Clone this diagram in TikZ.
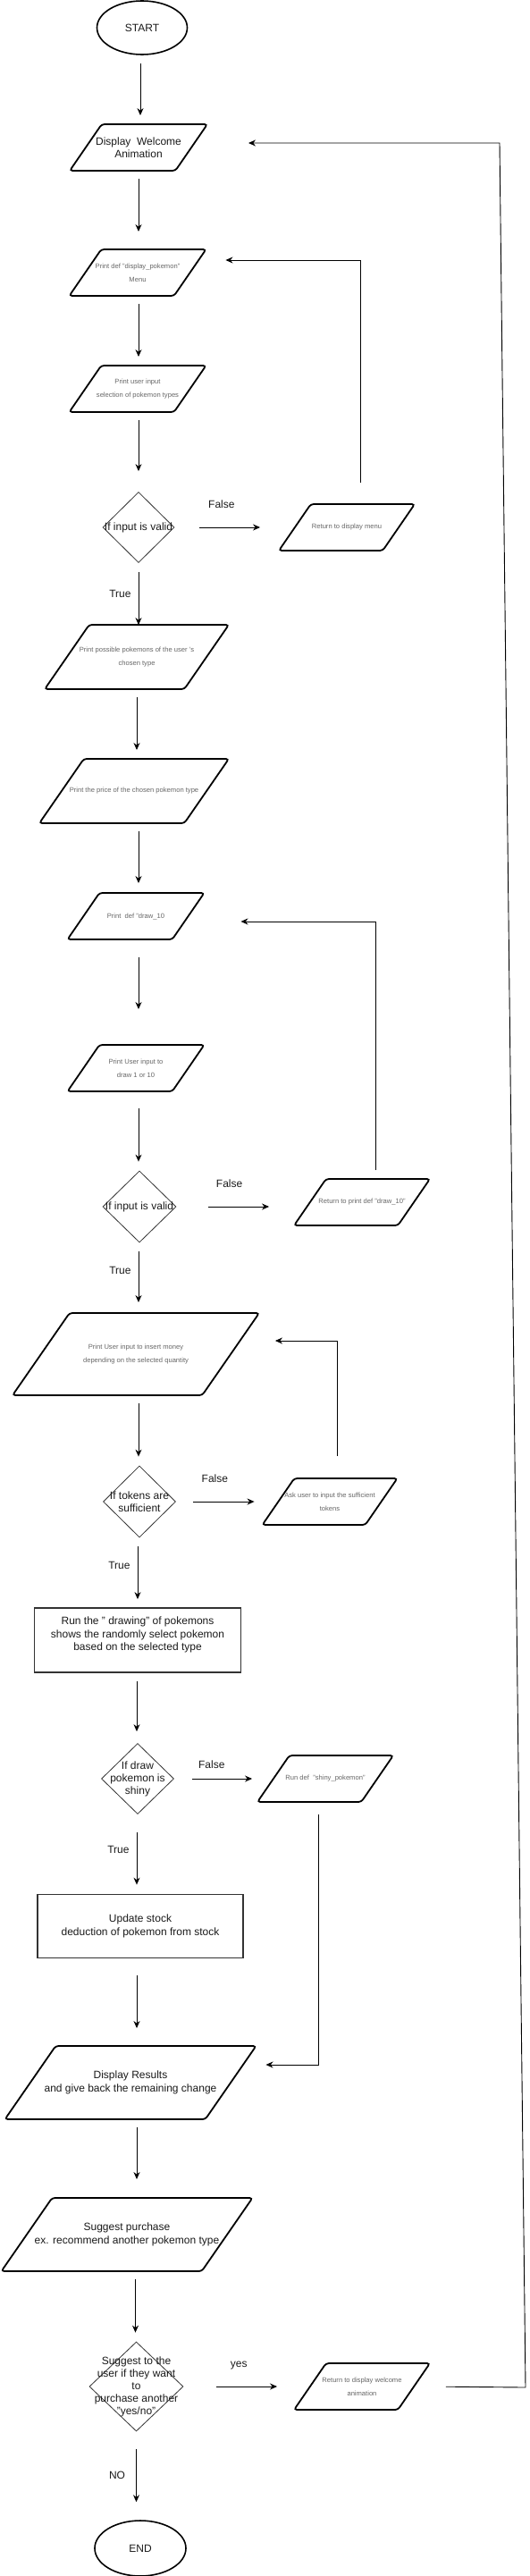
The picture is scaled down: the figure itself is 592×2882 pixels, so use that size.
\documentclass[tikz,border=0pt]{standalone}
\usepackage{fontspec}
\setmainfont{Liberation Sans}
\usetikzlibrary{shapes.geometric,arrows.meta}

\definecolor{txtgrey}{HTML}{666666}
\definecolor{inkdark}{HTML}{1A1A1A}
\newcommand\bigtxt{\fontsize{12}{14.5}\selectfont}
\newcommand\smalltxt{\fontsize{7.6}{15}\selectfont}

\begin{document}
\begin{tikzpicture}%
  [x=1pt, y=-1pt,
   >={Stealth[length=8pt,width=7pt]},
   line width=0.9pt,
   io/.style 2 args={rectangle, inner sep=0pt, minimum width=#1, minimum height=#2,
     align=center, text=txtgrey, font=\smalltxt,
     append after command={\pgfextra{\draw[line width=1.8pt, rounded corners=3pt]
       ([xshift={0.7*#2}]\tikzlastnode.north west) -- (\tikzlastnode.north east)
       -- ([xshift={-0.7*#2}]\tikzlastnode.south east) -- (\tikzlastnode.south west) -- cycle;}}},
   iobig/.style 2 args={io={#1}{#2}, text=inkdark, font=\bigtxt},
   process/.style 2 args={rectangle, draw=black!80, line width=1.8pt,
     minimum width=#1, minimum height=#2, align=center, text=inkdark, font=\bigtxt},
   decision/.style 2 args={diamond, draw=black!80, line width=0.8pt, inner sep=0pt,
     minimum width=#1, minimum height=#2},
   dtext/.style={align=center, text=inkdark, font=\fontsize{12}{14}\selectfont, inner sep=0pt},
   term/.style={ellipse, draw=black, line width=1.6pt, minimum width=101,
     minimum height=60, text=inkdark, font=\bigtxt},
   lbl/.style={text=inkdark, font=\bigtxt, inner sep=0pt},
   vert/.style={to path={-- (\tikztostart |- \tikztotarget) \tikztonodes}},
   horiz/.style={to path={-- (\tikztostart -| \tikztotarget) \tikztonodes}},
  ]
\useasboundingbox (0,0) rectangle (592,2882);

% main column
\node[term] (start) at (159,31) {START};
\node[iobig={153}{51}] (welcome) at (155,165) {Display\ \ Welcome\\Animation};
\node[io={152}{51}] (menu) at (154,305) {Print def "display\_pokemon"\\Menu};
\node[io={152}{51}] (input) at (154,435) {Print user input\\selection of pokemon types};
\node[decision={80}{79}, label={[dtext]center:If input is valid}] (valid1) at (155,590) {};
\node[io={205}{71}] (possible) at (153,735) {Print possible pokemons of the user 's\\chosen type};
\node[io={211}{71}] (price) at (150,885) {Print the price of the chosen pokemon type};
\node[io={152}{51}] (drawten) at (152,1025) {Print\ \ def "draw\_10};
\node[io={152}{51}] (drawqty) at (152,1195) {Print User input to\\draw 1 or 10};
\node[decision={82}{80}, label={[dtext]center:If input is valid}] (valid2) at (156,1350) {};
\node[io={275}{91}] (money) at (152,1515) {Print User input to insert money\\depending on the selected quantity};
\node[decision={81}{80}, label={[dtext]center:{If tokens are\\sufficient}}] (tokens) at (156,1680) {};
\node[process={231}{72}] (run) at (154,1835) {Run the " drawing" of pokemons\\shows the randomly select pokemon\\based on the selected type\\ \mbox{}};
\node[decision={81}{79}, label={[dtext]center:{If draw\\pokemon is\\shiny}}] (shiny) at (154,1990) {};
\node[process={230}{71}] (update) at (157,2155) {Update stock\\deduction of pokemon from stock};
\node[iobig={280}{81}] (results) at (146,2330) {Display Results\\and give back the remaining change};
\node[iobig={280}{81}] (suggest) at (142,2500) {Suggest purchase\\ex. recommend another pokemon type};
\node[decision={105}{100}, label={[dtext]center:{Suggest to the\\user if they want\\to\\purchase another\\"yes/no"}}] (again) at (152.5,2670) {};
\node[term, minimum width=102, minimum height=62] (end) at (157,2851) {END};

% side boxes
\node[io={151}{51}] (retmenu) at (388,590) {Return to display menu};
\node[io={151}{51}] (retdraw) at (405,1345) {Return to print def "draw\_10"};
\node[io={150}{51}] (asktok) at (369,1680) {Ask user to input the sufficient\\tokens};
\node[io={151}{51}] (runshiny) at (364,1990) {Run def\ \ "shiny\_pokemon"};
\node[io={151}{51}] (retwelcome) at (405,2670) {Return to display welcome\\animation};

\coordinate (loopbot) at (588,2671);
\coordinate (looptop) at (559,160);

\path[->]
%   FROM                    STYLE / GAPS                                LABEL                         TO
   ([xshift=-2]start.south) edge[vert, shorten <=9,  shorten >=10]                                    (welcome.north)
   (welcome.south)          edge[vert, shorten <=9,  shorten >=20]                                    (menu.north)
   ([xshift=1]menu.south)   edge[vert, shorten <=9,  shorten >=10]                                    (input.north)
   ([xshift=1]input.south)  edge[vert, shorten <=9,  shorten >=23]                                    (valid1.north)
   (valid1.south)           edge[vert, shorten <=10, shorten >=0]   node[lbl, left=8pt] {True}       (possible.north)
   (possible.south)         edge[vert, shorten <=9,  shorten >=10]                                    (price.north)
   ([xshift=5]price.south)  edge[vert, shorten <=9,  shorten >=11]                                    (drawten.north)
   ([xshift=3]drawten.south) edge[vert, shorten <=20, shorten >=40]                                   (drawqty.north)
   ([xshift=3]drawqty.south) edge[vert, shorten <=19, shorten >=10]                                   (valid2.north)
   ([xshift=-1]valid2.south) edge[vert, shorten <=10, shorten >=12] node[lbl, left=8pt, pos=0.4] {True} (money.north)
   ([xshift=3]money.south)  edge[vert, shorten <=9,  shorten >=10]                                    (tokens.north)
   ([xshift=-2]tokens.south) edge[vert, shorten <=10, shorten >=9]  node[lbl, left=8pt, pos=0.4] {True} (run.north)
   ([xshift=-1]run.south)   edge[vert, shorten <=9,  shorten >=13]                                    (shiny.north)
   ([xshift=-1]shiny.south) edge[vert, shorten <=20, shorten >=10]  node[lbl, left=8pt, pos=0.45] {True} (update.north)
   ([xshift=-4]update.south) edge[vert, shorten <=19, shorten >=20]                                   (results.north)
   ([xshift=7]results.south) edge[vert, shorten <=9, shorten >=21]                                    (suggest.north)
   ([xshift=9.5]suggest.south) edge[vert, shorten <=9, shorten >=10]                                  (again.north)
   (again.south)            edge[vert, shorten <=20, shorten >=20]  node[lbl, left=12pt, pos=0.5] {NO} (end.north)
   ;

\path[->]
   (valid1.east)  edge[horiz, shorten <=28, shorten >=21] node[lbl, above=21pt, pos=0.45] {False} (retmenu.west)
   (valid2.east)  edge[horiz, shorten <=36, shorten >=28] node[lbl, above=21pt, pos=0.45] {False} (retdraw.west)
   (tokens.east)  edge[horiz, shorten <=19, shorten >=9]  node[lbl, above=21pt, pos=0.45] {False} (asktok.west)
   (shiny.east)   edge[horiz, shorten <=20, shorten >=6]  node[lbl, above=11pt, pos=0.45] {False} (runshiny.west)
   (again.east)   edge[horiz, shorten <=37, shorten >=19] node[lbl, above=19pt] {yes}             (retwelcome.west)
   ;

% loops back
\draw[->, shorten <=24, shorten >=22] ([xshift=15]retmenu.north) |- ([yshift=14]menu.east);
\draw[->, shorten <=10, shorten >=41] ([xshift=15]retdraw.north) |- ([yshift=-6]drawten.east);
\draw[->, shorten <=25, shorten >=18] ([xshift=8]asktok.north) |- ([yshift=15]money.east);
\draw[->, shorten <=14, shorten >=11] ([xshift=-8]runshiny.south) |- ([yshift=20]results.east);
\draw[->, shorten <=18, shorten >=46] (retwelcome.east) -- (loopbot) -- (looptop) -- ([yshift=5]welcome.east);
\end{tikzpicture}
\end{document}
